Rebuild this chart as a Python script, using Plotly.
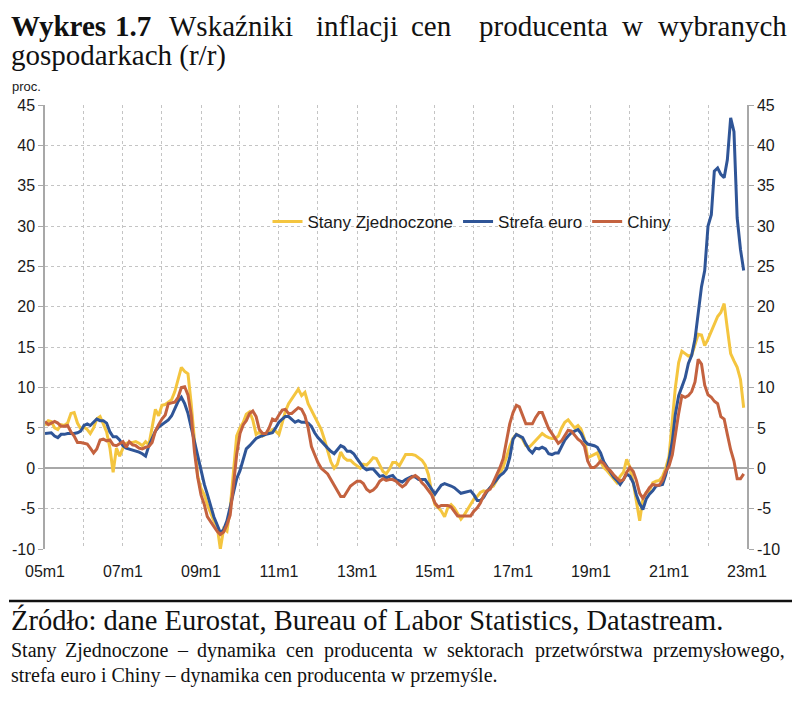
import pandas as pd
import plotly.graph_objects as go

# ---------------- data (monthly, 2005m1 .. 2022m12), % y/y ----------------
months = pd.date_range("2005-01-01", periods=216, freq="MS")

us = (
    [5.3, 5.9, 5.8, 5.0, 4.8, 5.4, 5.3, 5.6, 6.8, 6.9, 5.6, 4.9]            # 2005
    + [5.1, 4.8, 4.3, 5.0, 6.1, 6.4, 5.5, 4.5, 2.5, -0.5, 2.5, 1.5]         # 2006
    + [2.5, 3.1, 3.2, 3.2, 3.3, 3.1, 2.8, 3.3, 2.9, 5.0, 7.3, 6.5]          # 2007
    + [7.8, 7.9, 8.2, 8.5, 9.5, 11.0, 12.5, 12.0, 11.7, 8.0, 3.0, -1.0]     # 2008
    + [-2.5, -3.3, -4.5, -5.6, -6.5, -7.2, -10.0, -7.5, -7.8, -5.0, -0.5, 4.0]  # 2009
    + [5.0, 5.7, 6.7, 7.0, 6.0, 4.2, 4.5, 4.0, 4.3, 4.4, 4.8, 4.6]          # 2010
    + [4.2, 5.6, 7.0, 8.0, 8.6, 9.3, 9.8, 9.0, 9.4, 8.0, 7.2, 6.3]          # 2011
    + [5.6, 4.8, 3.6, 2.0, 0.8, 0.0, 0.5, 2.0, 1.3, 1.0, 1.0, 0.6]          # 2012
    + [0.3, 0.0, 0.5, 0.4, 0.8, 1.3, 1.2, 0.3, -0.4, -0.7, -0.1, 0.7]       # 2013
    + [0.7, 0.3, 1.0, 1.7, 1.7, 1.7, 1.6, 1.3, 1.0, 0.4, -0.8, -3.0]        # 2014
    + [-4.5, -4.9, -5.3, -6.0, -4.9, -4.5, -4.9, -5.6, -6.3, -5.8, -5.1, -4.5]  # 2015
    + [-3.8, -3.5, -3.0, -2.8, -2.9, -2.4, -2.2, -1.5, -0.6, 0.2, 1.4, 2.7]   # 2016
    + [3.7, 4.2, 4.0, 3.6, 2.8, 2.6, 3.0, 3.4, 3.8, 4.3, 4.0, 3.8]          # 2017
    + [3.7, 3.7, 4.0, 5.0, 5.7, 6.0, 5.5, 5.0, 5.3, 4.8, 3.6, 1.3]          # 2018
    + [1.5, 1.7, 1.9, 0.8, 0.1, -0.3, -0.8, -1.2, -1.8, -1.0, -0.5, 1.1]    # 2019
    + [0.1, -1.8, -4.0, -6.5, -3.8, -3.0, -2.8, -1.8, -1.6, -1.5, -1.0, 0.0]  # 2020
    + [1.5, 6.5, 10.0, 13.1, 14.5, 14.2, 13.9, 14.0, 15.3, 16.6, 16.5, 15.2]  # 2021
    + [16.0, 17.0, 18.0, 18.8, 19.3, 20.4, 17.3, 14.2, 13.3, 12.5, 11.0, 7.5] # 2022
)

euro = (
    [4.3, 4.4, 4.4, 4.0, 3.8, 4.2, 4.2, 4.3, 4.3, 4.3, 4.4, 4.6]
    + [5.3, 5.5, 5.3, 5.7, 6.1, 5.9, 5.9, 5.6, 4.5, 3.9, 3.9, 3.5]
    + [2.8, 2.5, 2.4, 2.3, 2.2, 2.0, 1.8, 1.5, 2.8, 3.8, 4.6, 5.1]
    + [5.4, 5.8, 6.0, 6.5, 7.3, 8.3, 8.8, 8.0, 6.8, 5.0, 3.2, 1.3]
    + [-0.3, -2.0, -3.2, -4.8, -6.0, -7.0, -8.0, -7.6, -6.5, -4.8, -2.8, -1.3]
    + [-0.3, 1.0, 2.4, 2.8, 3.2, 3.7, 3.9, 4.1, 4.2, 4.3, 4.4, 5.0]
    + [5.7, 6.1, 6.4, 6.4, 6.1, 5.7, 5.9, 5.7, 5.7, 5.6, 5.2, 4.4]
    + [3.8, 3.4, 3.0, 2.5, 2.1, 1.8, 2.3, 2.8, 2.6, 2.1, 2.1, 1.8]
    + [1.2, 0.6, 0.1, -0.2, -0.1, -0.1, -0.6, -1.0, -0.9, -1.2, -1.0, -0.9]
    + [-1.4, -1.6, -1.7, -1.4, -1.2, -1.0, -1.1, -1.4, -1.4, -1.4, -2.0, -2.6]
    + [-3.2, -2.6, -2.1, -1.9, -2.0, -2.2, -2.4, -2.8, -3.1, -3.0, -2.9, -2.8]
    + [-3.3, -4.0, -4.0, -3.6, -2.9, -2.4, -1.9, -1.4, -0.9, -0.6, -0.1, 1.3]
    + [3.6, 4.2, 4.0, 3.8, 3.0, 2.3, 1.9, 2.5, 2.4, 2.6, 2.4, 1.8]
    + [1.7, 1.9, 1.9, 2.8, 3.5, 4.0, 4.4, 4.6, 4.8, 4.3, 3.4, 3.0]
    + [2.9, 2.8, 2.6, 1.9, 0.8, 0.2, -0.4, -1.1, -1.5, -2.0, -1.4, -0.7]
    + [-1.0, -1.8, -3.3, -4.4, -5.1, -3.8, -3.2, -2.8, -2.2, -2.1, -2.0, -0.8]
    + [1.0, 3.4, 6.7, 9.0, 10.0, 11.2, 13.0, 14.0, 16.0, 19.5, 22.5, 24.5]
    + [30.0, 31.4, 36.8, 37.2, 36.4, 36.0, 38.2, 43.4, 41.7, 31.0, 27.1, 24.5]
)

china = (
    [5.8, 5.4, 5.6, 5.8, 5.6, 5.2, 5.2, 5.3, 4.5, 4.0, 3.2, 3.2]
    + [3.1, 3.0, 2.5, 1.9, 2.4, 3.5, 3.6, 3.4, 3.5, 2.9, 2.8, 3.1]
    + [3.3, 2.6, 3.3, 2.9, 2.8, 2.5, 2.4, 2.6, 2.7, 3.2, 4.6, 5.4]
    + [6.1, 6.6, 8.0, 8.1, 8.2, 8.8, 10.0, 10.1, 9.1, 6.6, 2.0, -1.1]
    + [-3.3, -4.5, -6.0, -6.6, -7.2, -7.8, -8.2, -7.9, -7.0, -5.8, -2.1, 1.7]
    + [4.3, 5.4, 5.9, 6.8, 7.1, 6.4, 4.8, 4.3, 4.3, 5.0, 6.1, 5.9]
    + [6.6, 7.2, 7.3, 6.8, 6.8, 7.1, 7.5, 7.3, 6.5, 5.0, 2.7, 1.7]
    + [0.7, 0.0, -0.3, -0.7, -1.4, -2.1, -2.9, -3.5, -3.5, -2.8, -2.2, -1.9]
    + [-1.6, -1.6, -1.9, -2.6, -2.9, -2.7, -2.3, -1.6, -1.3, -1.5, -1.4, -1.4]
    + [-1.6, -2.0, -2.3, -2.0, -1.4, -1.1, -0.9, -1.2, -1.8, -2.2, -2.7, -3.3]
    + [-4.3, -4.8, -4.6, -4.6, -4.6, -4.8, -5.4, -5.9, -5.9, -5.9, -5.9, -5.9]
    + [-5.3, -4.9, -4.3, -3.4, -2.8, -2.6, -1.7, -0.8, 0.1, 1.2, 3.3, 5.5]
    + [6.9, 7.8, 7.6, 6.4, 5.5, 5.5, 5.5, 6.3, 6.9, 6.9, 5.8, 4.9]
    + [4.3, 3.7, 3.1, 3.4, 4.1, 4.7, 4.6, 4.1, 3.6, 3.3, 2.7, 0.9]
    + [0.1, 0.1, 0.4, 0.9, 0.6, 0.0, -0.3, -0.8, -1.2, -1.6, -1.4, -0.5]
    + [0.1, -0.4, -1.5, -3.1, -3.7, -3.0, -2.4, -2.0, -2.1, -2.1, -1.5, -0.4]
    + [0.3, 1.7, 4.4, 6.8, 9.0, 8.8, 9.0, 9.5, 10.7, 13.5, 12.9, 10.3]
    + [9.1, 8.8, 8.3, 8.0, 6.4, 6.1, 4.2, 2.3, 0.9, -1.3, -1.3, -0.7]
)

series_names = ["Stany Zjednoczone", "Strefa euro", "Chiny"]
series_colors = ["#F4C53F", "#2F5597", "#C4623F"]

tick_dates = [f"{y}-01-01" for y in range(2005, 2024)]
tick_labels = [(f"{y % 100:02d}m1" if (y - 2005) % 2 == 0 else "") for y in range(2005, 2024)]
y_ticks = list(range(-10, 50, 5))
y_tick_labels = [str(v) for v in y_ticks]

title_words = [("<b>Wykres</b>", 9), ("<b>1.7</b>", 113), ("Wskaźniki", 167), ("inflacji", 314),
               ("cen", 409), ("producenta", 477), ("w", 620), ("wybranych", 656)]
title_line2 = "gospodarkach (r/r)"
source_text = "Źródło: dane Eurostat, Bureau of Labor Statistics, Datastream."
note_words = [("Stany", 9), ("Zjednoczone", 63), ("–", 175), ("dynamika", 195), ("cen", 284),
              ("producenta", 322), ("w", 421), ("sektorach", 445), ("przetwórstwa", 533),
              ("przemysłowego,", 651)]
note_line2 = "strefa euro i Chiny – dynamika cen producenta w przemyśle."

# ---------------- geometry (screen pixels; page body adds an 8px offset) ----------------
OFF = 8
L, R, T, B = 45, 747, 105, 549
W, H = 800 - OFF, 707 - OFF
PW, PH = R - L, B - T


def px(x):
    return (x - L) / PW


def py(y):
    return (B - y) / PH


fig = go.Figure()
for name, vals, col in zip(series_names, [us, euro, china], series_colors):
    fig.add_trace(go.Scatter(x=months, y=vals, name=name, mode="lines",
                             line=dict(color=col, width=3)))
# dummy trace to activate the right-hand axis
fig.add_trace(go.Scatter(x=[months[0]], y=[None], yaxis="y2", showlegend=False,
                         hoverinfo="skip"))

axis_font = dict(family="Liberation Sans, Arial, sans-serif", size=16, color="#1a1a1a")
grid_col = "#c4c4c4"

fig.update_layout(
    width=W, height=H,
    margin=dict(l=L - OFF, r=800 - R, t=T - OFF, b=707 - B),
    paper_bgcolor="white", plot_bgcolor="white",
    font=axis_font,
    xaxis=dict(type="date", range=["2005-01-01", "2023-01-01"],
               tickmode="array", tickvals=tick_dates, ticktext=tick_labels,
               showgrid=True, gridcolor=grid_col, griddash="3px,3px", gridwidth=1,
               showline=False, ticks="", zeroline=False, ticklabelstandoff=11,
               tickfont=axis_font, automargin=False),
    yaxis=dict(range=[-10, 45], tickmode="array", tickvals=y_ticks, ticktext=y_tick_labels,
               showgrid=True, gridcolor=grid_col, griddash="3px,3px", gridwidth=1,
               zeroline=True, zerolinecolor="#a8a8a8", zerolinewidth=1.5,
               showline=True, linecolor="#a8a8a8", linewidth=1.5,
               ticks="outside", ticklen=5, tickcolor="#a8a8a8",
               tickfont=axis_font, automargin=False),
    yaxis2=dict(range=[-10, 45], tickmode="array", tickvals=y_ticks, ticktext=y_tick_labels,
                overlaying="y", side="right", showgrid=False, zeroline=False,
                showline=True, linecolor="#a8a8a8", linewidth=1.5,
                ticks="outside", ticklen=5, tickcolor="#a8a8a8",
                tickfont=axis_font, automargin=False),
    legend=dict(orientation="h", x=px(472), xanchor="center", y=py(222), yanchor="middle",
                bgcolor="rgba(0,0,0,0)", font=dict(family="Liberation Sans, Arial, sans-serif",
                                                   size=17, color="#1a1a1a"),
                itemwidth=30, tracegroupgap=0),
    showlegend=True,
)

serif = "Liberation Serif, Times New Roman, serif"
ann = []
for word, x0 in title_words:
    ann.append(dict(text=word, x=px(x0), y=py(26), xref="paper", yref="paper",
                    xanchor="left", yanchor="middle", showarrow=False,
                    font=dict(family=serif, size=29, color="#111")))
ann.append(dict(text=title_line2, x=px(9), y=py(55), xref="paper", yref="paper",
                xanchor="left", yanchor="middle", showarrow=False,
                font=dict(family=serif, size=29, color="#111")))
ann.append(dict(text="proc.", x=px(10), y=py(87), xref="paper", yref="paper",
                xanchor="left", yanchor="middle", showarrow=False,
                font=dict(family="Liberation Sans, Arial, sans-serif", size=13, color="#1a1a1a")))
ann.append(dict(text=source_text, x=px(9), y=py(620), xref="paper", yref="paper",
                xanchor="left", yanchor="middle", showarrow=False,
                font=dict(family=serif, size=28.5, color="#111")))
for word, x0 in note_words:
    ann.append(dict(text=word, x=px(x0), y=py(650), xref="paper", yref="paper",
                    xanchor="left", yanchor="middle", showarrow=False,
                    font=dict(family=serif, size=20, color="#111")))
ann.append(dict(text=note_line2, x=px(9), y=py(675), xref="paper", yref="paper",
                xanchor="left", yanchor="middle", showarrow=False,
                font=dict(family=serif, size=20, color="#111")))
fig.update_layout(annotations=ann)

fig.add_shape(type="line", xref="paper", yref="paper", x0=px(9), x1=px(792),
              y0=py(601), y1=py(601), line=dict(color="#111", width=2.5))

fig.write_html("out.html")
